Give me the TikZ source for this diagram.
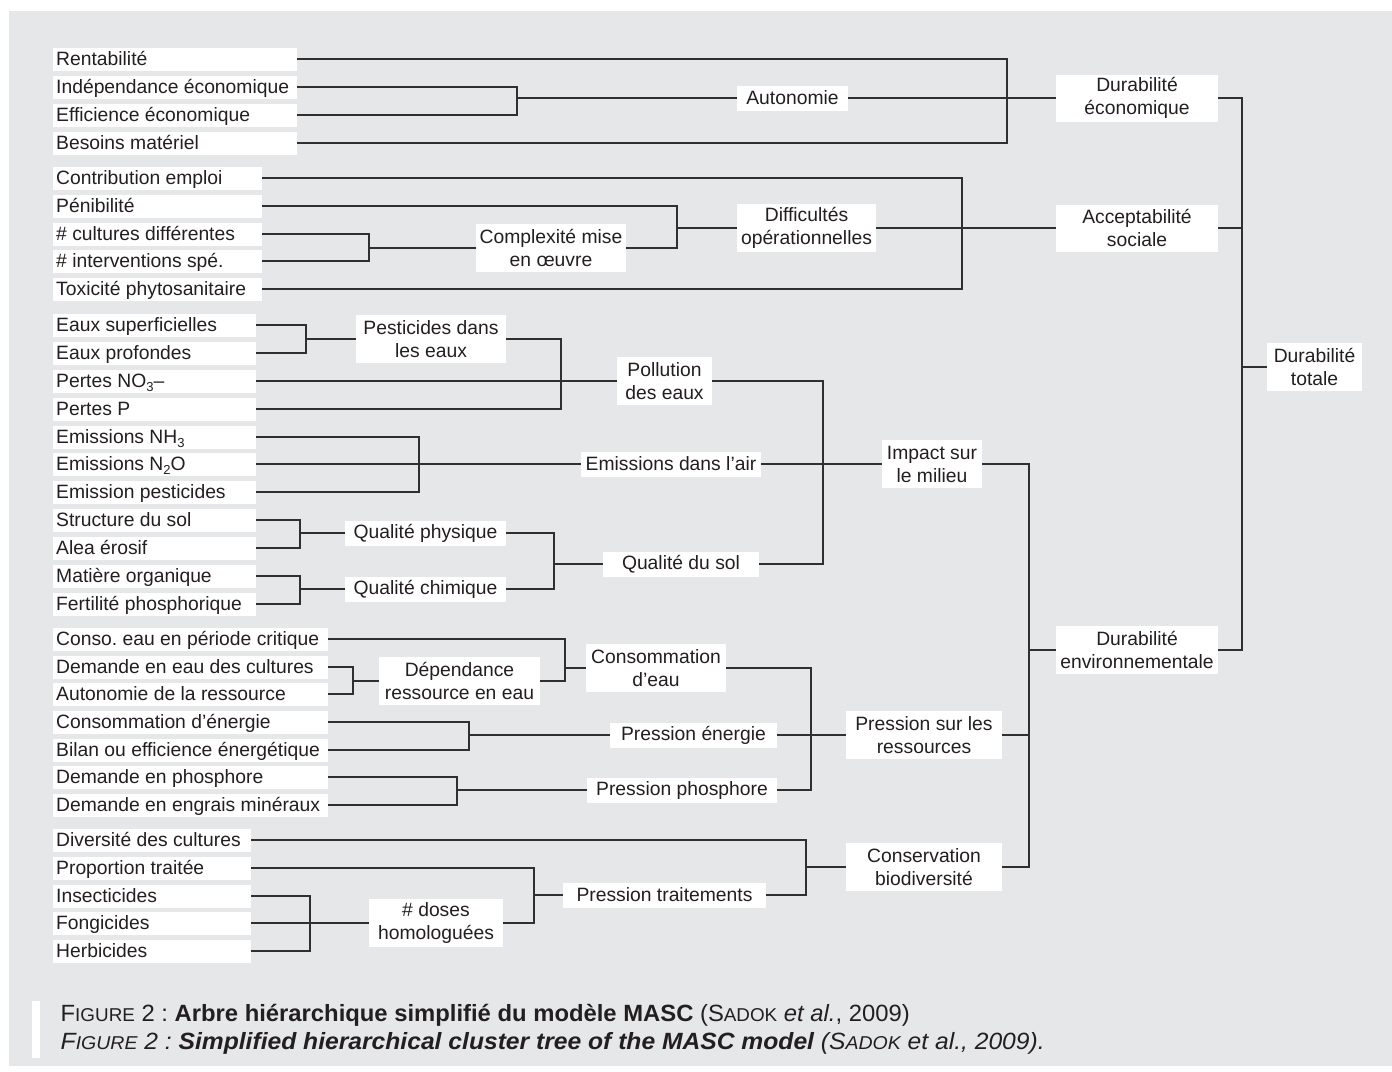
\documentclass[tikz,border=0pt]{standalone}
\usepackage{fontspec}
\setmainfont{Liberation Sans}
\usepackage{graphicx}
\frenchspacing
\definecolor{bggray}{HTML}{E6E7E8}
\definecolor{linecol}{HTML}{303030}
\definecolor{txtcol}{HTML}{231F20}
\newcommand\lfnode[4]{\node[leaf] (#1) at (53,#2) {\makebox[#3pt][l]{\hspace{3pt}#4}};}
\newcommand\mbnode[6]{\node[mbox, minimum width=#4pt, minimum height=#5pt] (#1) at (#2,#3) {#6};}
\newcommand\smc[1]{{\fontsize{18.6}{20}\selectfont #1}}
\begin{document}
\begin{tikzpicture}[x=1pt,y=-1pt,
  every node/.style={font=\fontsize{19.3}{23}\selectfont, text=txtcol},
  leaf/.style={fill=white, anchor=west, inner sep=0pt, minimum height=23pt, text height=13pt, text depth=1pt},
  mbox/.style={fill=white, inner sep=0pt, align=center},
  conn/.style={draw=linecol, line width=1.4pt},
]
\useasboundingbox (0,0) rectangle (1392,1071);
\fill[white] (0,0) rectangle (1392,1071);
\fill[bggray] (9,11) rectangle (1392,1066);

% ---------- leaves ----------
\lfnode{rent}{59}{244}{Rentabilité}
\lfnode{indep}{87}{244}{Indépendance économique}
\lfnode{effic}{115}{244}{Efficience économique}
\lfnode{besoin}{143}{244}{Besoins matériel}

\lfnode{contrib}{178}{209}{Contribution emploi}
\lfnode{penib}{206}{209}{Pénibilité}
\lfnode{cult}{234}{209}{\# cultures différentes}
\lfnode{interv}{261}{209}{\# interventions spé.}
\lfnode{toxi}{289}{209}{Toxicité phytosanitaire}

\lfnode{esup}{325}{203}{Eaux superficielles}
\lfnode{eprof}{353}{203}{Eaux profondes}
\lfnode{nitr}{381}{203}{Pertes NO\raisebox{-0.45ex}{\fontsize{13}{13}\selectfont 3}–}
\lfnode{pertp}{409}{203}{Pertes P}
\lfnode{nhtr}{437}{203}{Emissions NH\raisebox{-0.45ex}{\fontsize{13}{13}\selectfont 3}}
\lfnode{ndeux}{464}{203}{Emissions N\raisebox{-0.45ex}{\fontsize{13}{13}\selectfont 2}O}
\lfnode{epest}{492}{203}{Emission pesticides}
\lfnode{struc}{520}{203}{Structure du sol}
\lfnode{alea}{548}{203}{Alea érosif}
\lfnode{matie}{576}{203}{Matière organique}
\lfnode{ferti}{604}{203}{Fertilité phosphorique}

\lfnode{consoeau}{639}{275}{Conso. eau en période critique}
\lfnode{demeau}{667}{275}{Demande en eau des cultures}
\lfnode{autres}{694}{275}{Autonomie de la ressource}
\lfnode{consen}{722}{275}{Consommation d’énergie}
\lfnode{bilan}{750}{275}{Bilan ou efficience énergétique}
\lfnode{demphos}{777}{275}{Demande en phosphore}
\lfnode{demengr}{805}{275}{Demande en engrais minéraux}

\lfnode{divers}{840}{198}{Diversité des cultures}
\lfnode{propor}{868}{198}{Proportion traitée}
\lfnode{insect}{896}{198}{Insecticides}
\lfnode{fongic}{923}{198}{Fongicides}
\lfnode{herbic}{951}{198}{Herbicides}

% ---------- intermediate boxes ----------
\mbnode{auto}{792.5}{98}{111}{25}{Autonomie}
\mbnode{due}{1137}{98}{162}{47}{Durabilité\\économique}
\mbnode{acc}{1137}{228}{162}{47}{Acceptabilité\\sociale}
\mbnode{tot}{1314.5}{367}{95}{48}{Durabilité\\totale}
\mbnode{denv}{1137}{650}{162}{48}{Durabilité\\environnementale}
\mbnode{diff}{806.5}{228}{139}{48}{Difficultés\\opérationnelles}
\mbnode{compl}{551}{248}{150}{48}{Complexité mise\\en œuvre}
\mbnode{pest}{431}{339}{150}{48}{Pesticides dans\\les eaux}
\mbnode{poll}{664.5}{381}{95}{48}{Pollution\\des eaux}
\mbnode{emis}{671}{464}{180}{25}{Emissions dans l’air}
\mbnode{impact}{932}{464}{100}{48}{Impact sur\\le milieu}
\mbnode{qphys}{425.5}{533}{161}{25}{Qualité physique}
\mbnode{qchim}{425.5}{589}{161}{25}{Qualité chimique}
\mbnode{qsol}{681}{564}{156}{25}{Qualité du sol}
\mbnode{dep}{459.5}{681}{161}{48}{Dépendance\\ressource en eau}
\mbnode{ceau}{656}{668}{140}{48}{Consommation\\d’eau}
\mbnode{penerg}{693.5}{735}{167}{25}{Pression énergie}
\mbnode{pres}{924}{735}{156}{48}{Pression sur les\\ressources}
\mbnode{pphos}{682}{790}{190}{25}{Pression phosphore}
\mbnode{cons}{924}{867}{156}{48}{Conservation\\biodiversité}
\mbnode{ptrait}{664.5}{895}{203}{25}{Pression traitements}
\mbnode{doses}{436}{923}{134}{48}{\# doses\\homologuées}

% ---------- bracket x positions ----------
\coordinate (b1) at (1007,0);
\coordinate (b2) at (517,0);
\coordinate (b3) at (962,0);
\coordinate (b4) at (677,0);
\coordinate (b5) at (369,0);
\coordinate (b6) at (1242,0);
\coordinate (b7) at (306,0);
\coordinate (b8) at (561,0);
\coordinate (b9) at (419,0);
\coordinate (b10) at (300,0);
\coordinate (b11) at (554,0);
\coordinate (b12) at (823,0);
\coordinate (b13) at (1029,0);
\coordinate (b14) at (565,0);
\coordinate (b15) at (353,0);
\coordinate (b16) at (811,0);
\coordinate (b17) at (469,0);
\coordinate (b18) at (457,0);
\coordinate (b19) at (806,0);
\coordinate (b20) at (534,0);
\coordinate (b21) at (310,0);

% ---------- connectors ----------
% Durabilite economique
\draw[conn] (rent.east) -- (rent.east -| b1) |- (due.west);
\draw[conn] (besoin.east) -- (besoin.east -| b1) |- (due.west);
\draw[conn] (indep.east) -- (indep.east -| b2) |- (auto.west);
\draw[conn] (effic.east) -- (effic.east -| b2) |- (auto.west);
\draw[conn] (auto.east) -- (auto.east -| due.west);
% Acceptabilite sociale
\draw[conn] (contrib.east) -- (contrib.east -| b3) |- (acc.west);
\draw[conn] (toxi.east) -- (toxi.east -| b3) |- (acc.west);
\draw[conn] (penib.east) -- (penib.east -| b4) |- (diff.west);
\draw[conn] (compl.east) -- (compl.east -| b4) |- (diff.west);
\draw[conn] (cult.east) -- (cult.east -| b5) |- (compl.west);
\draw[conn] (interv.east) -- (interv.east -| b5) |- (compl.west);
\draw[conn] (diff.east) -- (diff.east -| acc.west);
% Durabilite totale
\draw[conn] (due.east) -- (due.east -| b6) |- (tot.west);
\draw[conn] (acc.east) -- (acc.east -| b6) |- (tot.west);
\draw[conn] (denv.east) -- (denv.east -| b6) |- (tot.west);
% Impact sur le milieu
\draw[conn] (esup.east) -- (esup.east -| b7) |- (pest.west);
\draw[conn] (eprof.east) -- (eprof.east -| b7) |- (pest.west);
\draw[conn] (pest.east) -- (pest.east -| b8) |- (poll.west);
\draw[conn] (pertp.east) -- (pertp.east -| b8) |- (poll.west);
\draw[conn] (nitr.east) -- (nitr.east -| poll.west);
\draw[conn] (nhtr.east) -- (nhtr.east -| b9) |- (emis.west);
\draw[conn] (epest.east) -- (epest.east -| b9) |- (emis.west);
\draw[conn] (ndeux.east) -- (ndeux.east -| emis.west);
\draw[conn] (struc.east) -- (struc.east -| b10) |- (qphys.west);
\draw[conn] (alea.east) -- (alea.east -| b10) |- (qphys.west);
\draw[conn] (matie.east) -- (matie.east -| b10) |- (qchim.west);
\draw[conn] (ferti.east) -- (ferti.east -| b10) |- (qchim.west);
\draw[conn] (qphys.east) -- (qphys.east -| b11) |- (qsol.west);
\draw[conn] (qchim.east) -- (qchim.east -| b11) |- (qsol.west);
\draw[conn] (poll.east) -- (poll.east -| b12) |- (impact.west);
\draw[conn] (qsol.east) -- (qsol.east -| b12) |- (impact.west);
\draw[conn] (emis.east) -- (emis.east -| impact.west);
% Durabilite environnementale
\draw[conn] (impact.east) -- (impact.east -| b13) |- (denv.west);
\draw[conn] (pres.east) -- (pres.east -| b13) |- (denv.west);
\draw[conn] (cons.east) -- (cons.east -| b13) |- (denv.west);
% Pression sur les ressources
\draw[conn] (consoeau.east) -- (consoeau.east -| b14) |- (ceau.west);
\draw[conn] (dep.east) -- (dep.east -| b14) |- (ceau.west);
\draw[conn] (demeau.east) -- (demeau.east -| b15) |- (dep.west);
\draw[conn] (autres.east) -- (autres.east -| b15) |- (dep.west);
\draw[conn] (ceau.east) -- (ceau.east -| b16) |- (pres.west);
\draw[conn] (pphos.east) -- (pphos.east -| b16) |- (pres.west);
\draw[conn] (penerg.east) -- (penerg.east -| pres.west);
\draw[conn] (consen.east) -- (consen.east -| b17) |- (penerg.west);
\draw[conn] (bilan.east) -- (bilan.east -| b17) |- (penerg.west);
\draw[conn] (demphos.east) -- (demphos.east -| b18) |- (pphos.west);
\draw[conn] (demengr.east) -- (demengr.east -| b18) |- (pphos.west);
% Conservation biodiversite
\draw[conn] (divers.east) -- (divers.east -| b19) |- (cons.west);
\draw[conn] (ptrait.east) -- (ptrait.east -| b19) |- (cons.west);
\draw[conn] (propor.east) -- (propor.east -| b20) |- (ptrait.west);
\draw[conn] (doses.east) -- (doses.east -| b20) |- (ptrait.west);
\draw[conn] (insect.east) -- (insect.east -| b21) |- (doses.west);
\draw[conn] (herbic.east) -- (herbic.east -| b21) |- (doses.west);
\draw[conn] (fongic.east) -- (fongic.east -| doses.west);

% ---------- caption ----------
\fill[white] (32,1001) rectangle (40,1058);
\node[anchor=base west, inner sep=0pt, font=\fontsize{23.5}{28}\selectfont] (capone) at (60.5,1021)
  {\resizebox{849pt}{\height}{F\smc{IGURE} 2 : \textbf{Arbre hiérarchique simplifié du modèle MASC} (S\smc{ADOK} \textit{et al.}, 2009)}};
\node[anchor=base west, inner sep=0pt, font=\fontsize{23.5}{28}\selectfont\itshape] (captwo) at (60.5,1049)
  {\resizebox{984pt}{\height}{F\smc{IGURE} 2 : \textbf{Simplified hierarchical cluster tree of the MASC model} (S\smc{ADOK} et al., 2009).}};
\end{tikzpicture}
\end{document}
